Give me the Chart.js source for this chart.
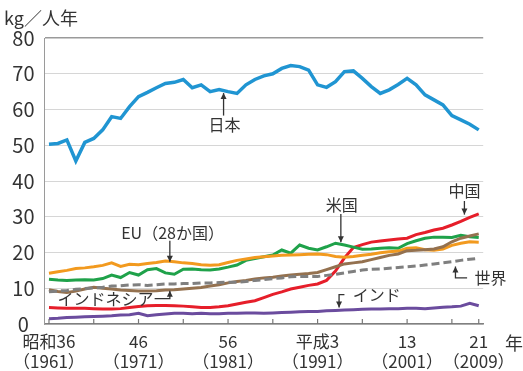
<!DOCTYPE html>
<html>
<head>
<meta charset="utf-8">
<script src="https://cdn.jsdelivr.net/npm/chart.js@4/dist/chart.umd.min.js"></script>
<style>
  html, body { margin: 0; padding: 0; background: #fff; }
  #wrap { width: 523px; height: 371px; position: relative; }
</style>
</head>
<body>
<div id="wrap"><canvas id="fishChart"></canvas></div>
<script>
// years 1961 - 2009
const years = [
  1961, 1962, 1963, 1964, 1965, 1966, 1967, 1968, 1969, 1970,
  1971, 1972, 1973, 1974, 1975, 1976, 1977, 1978, 1979, 1980,
  1981, 1982, 1983, 1984, 1985, 1986, 1987, 1988, 1989, 1990,
  1991, 1992, 1993, 1994, 1995, 1996, 1997, 1998, 1999, 2000,
  2001, 2002, 2003, 2004, 2005, 2006, 2007, 2008, 2009
];

const japan = [
  50.3, 50.5, 51.5, 45.6, 50.8, 51.9, 54.3, 58.0, 57.5, 60.8,
  63.6, 64.8, 66.1, 67.3, 67.6, 68.4, 66.1, 66.9, 65.0, 65.6,
  65.0, 64.5, 66.9, 68.4, 69.4, 70.0, 71.5, 72.3, 72.0, 71.0,
  66.9, 66.2, 67.8, 70.6, 70.8, 68.7, 66.4, 64.5, 65.5, 67.0,
  68.7, 66.9, 64.1, 62.7, 61.3, 58.3, 57.1, 55.9, 54.3
];
const usa = [
  12.5, 12.3, 12.2, 12.3, 12.4, 12.3, 12.7, 13.7, 13.0, 14.4,
  13.7, 15.2, 15.5, 14.3, 13.9, 15.3, 15.4, 15.2, 15.1, 15.4,
  15.9, 16.5, 17.8, 18.3, 18.8, 19.3, 20.7, 19.8, 22.1, 21.2,
  20.7, 21.6, 22.6, 22.1, 21.5, 20.9, 21.0, 21.2, 21.3, 21.2,
  22.5, 23.3, 24.0, 24.3, 24.3, 24.2, 24.8, 24.4, 24.2
];
const eu = [
  14.2, 14.6, 15.0, 15.5, 15.7, 16.0, 16.4, 17.1, 16.1, 16.7,
  16.6, 16.9, 17.2, 17.6, 17.4, 17.1, 16.9, 16.6, 16.4, 16.6,
  17.2, 17.8, 18.2, 18.6, 18.8, 19.0, 19.2, 19.3, 19.4, 19.5,
  19.6, 19.4, 18.9, 18.7, 18.9, 19.2, 19.5, 19.9, 20.2, 20.4,
  21.2, 21.3, 20.8, 20.6, 21.0, 22.0, 22.6, 23.0, 22.9
];
const china = [
  4.6, 4.5, 4.4, 4.4, 4.4, 4.3, 4.2, 4.2, 4.3, 4.6,
  4.9, 5.1, 5.2, 5.2, 5.1, 5.0, 4.8, 4.6, 4.6, 4.8,
  5.1, 5.6, 6.1, 6.5, 7.4, 8.3, 9.0, 9.8, 10.3, 10.8,
  11.2, 12.2, 14.8, 18.5, 21.4, 22.2, 22.9, 23.2, 23.5, 23.8,
  24.0, 25.0, 25.6, 26.3, 26.8, 27.7, 28.7, 29.8, 30.8
];
const indonesia = [
  9.6, 9.1, 8.8, 9.2, 9.8, 10.3, 10.0, 9.8, 9.5, 9.4,
  9.2, 9.2, 9.3, 9.5, 9.6, 9.8, 10.0, 10.2, 10.6, 11.0,
  11.5, 11.9, 12.2, 12.6, 12.9, 13.1, 13.4, 13.7, 13.9, 14.1,
  14.4, 15.2, 16.0, 16.8, 17.1, 17.4, 18.0, 18.6, 19.2, 19.6,
  20.5, 20.6, 20.8, 21.0, 21.6, 23.0, 24.0, 24.6, 25.2
];
const world = [
  9.0, 9.2, 9.4, 9.7, 9.9, 10.1, 10.3, 10.6, 10.7, 10.9,
  11.0, 10.8, 11.0, 11.2, 11.2, 11.3, 11.3, 11.5, 11.5, 11.6,
  11.7, 11.7, 11.9, 12.2, 12.4, 12.7, 12.9, 13.2, 13.3, 13.3,
  13.3, 13.6, 13.9, 14.3, 14.7, 15.1, 15.3, 15.4, 15.6, 15.8,
  16.0, 16.2, 16.5, 16.8, 17.1, 17.4, 17.8, 18.1, 18.4
];
const india = [
  1.5, 1.6, 1.8, 1.9, 2.0, 2.1, 2.2, 2.3, 2.5, 2.6,
  3.0, 2.3, 2.6, 2.8, 3.0, 3.0, 2.9, 3.0, 2.9, 2.9,
  3.0, 3.0, 3.1, 3.1, 3.0, 3.1, 3.2, 3.3, 3.4, 3.5,
  3.5, 3.7, 3.8, 3.9, 4.0, 4.1, 4.2, 4.2, 4.3, 4.3,
  4.4, 4.4, 4.3, 4.5, 4.7, 4.8, 5.0, 5.8, 5.1
];

// x axis ticks (every 5 years + last year) and their labels
const tickYears = [1961, 1966, 1971, 1976, 1981, 1986, 1991, 1996, 2001, 2006, 2009];
const tickLabels = {
  1961: ['昭和36', '（1961）'],
  1971: ['46', '（1971）'],
  1981: ['56', '（1981）'],
  1991: ['平成3', '（1991）'],
  2001: ['13', '（2001）'],
  2009: ['21', '（2009）']
};
const yTicks = [0, 10, 20, 30, 40, 50, 60, 70, 80];

const FONT = "'Noto Sans CJK JP', 'Noto Sans', sans-serif";
const TEXT = '#333333';

const toXY = arr => arr.map((v, i) => ({ x: years[i], y: v }));

function series(label, values, color, extra) {
  return Object.assign({
    label: label,
    data: toXY(values),
    borderColor: color,
    backgroundColor: color,
    borderWidth: 3,
    pointRadius: 0,
    tension: 0,
    fill: false
  }, extra || {});
}

// notes: text + arrow, in data coordinates
const notes = [
  { text: '日本', tx: 1980.6, ty: 55.6, arrow: [[1980.5, 58.3], [1980.5, 64.6]] },
  { text: 'EU（28か国）', tx: 1974.8, ty: 25.6, arrow: [[1974.5, 23.3], [1974.5, 17.4]] },
  { text: '米国', tx: 1993.7, ty: 33.4, arrow: [[1993.6, 30.8], [1993.6, 22.9]] },
  { text: '中国', tx: 2007.4, ty: 37.2, arrow: [[2007.4, 34.4], [2007.4, 30.6]] },
  { text: '世界', tx: 2010.3, ty: 13.0, arrow: [[2007.7, 12.9], [2006.4, 12.9], [2006.4, 16.1]] },
  { text: 'インド', tx: 1997.6, ty: 8.1, arrow: [[1994.0, 8.2], [1993.4, 8.2], [1993.4, 4.6]] },
  { text: 'インドネシア', tx: 1967.3, ty: 7.1, arrow: [[1972.8, 7.1], [1974.5, 7.1], [1974.5, 9.3]] }
];

const notesPlugin = {
  id: 'notes',
  afterDatasetsDraw(chart) {
    const ctx = chart.ctx;
    const xs = chart.scales.x, ys = chart.scales.y;
    ctx.save();
    ctx.fillStyle = TEXT;
    ctx.strokeStyle = TEXT;
    ctx.lineWidth = 1.3;
    ctx.textAlign = 'center';
    ctx.textBaseline = 'middle';
    notes.forEach(n => {
      ctx.font = '16px ' + FONT;
      ctx.fillText(n.text, xs.getPixelForValue(n.tx), ys.getPixelForValue(n.ty));
      const pts = n.arrow.map(p => [xs.getPixelForValue(p[0]), ys.getPixelForValue(p[1])]);
      ctx.beginPath();
      ctx.moveTo(pts[0][0], pts[0][1]);
      for (let i = 1; i < pts.length; i++) ctx.lineTo(pts[i][0], pts[i][1]);
      ctx.stroke();
      // arrow head
      const a = pts[pts.length - 2], b = pts[pts.length - 1];
      const ang = Math.atan2(b[1] - a[1], b[0] - a[0]);
      ctx.beginPath();
      ctx.moveTo(b[0], b[1]);
      ctx.lineTo(b[0] - 6 * Math.cos(ang) + 3 * Math.sin(ang), b[1] - 6 * Math.sin(ang) - 3 * Math.cos(ang));
      ctx.lineTo(b[0] - 6 * Math.cos(ang) - 3 * Math.sin(ang), b[1] - 6 * Math.sin(ang) + 3 * Math.cos(ang));
      ctx.closePath();
      ctx.fill();
    });

    // inward tick marks on the x axis
    const bottom = chart.chartArea.bottom;
    ctx.strokeStyle = '#777';
    ctx.lineWidth = 1.2;
    tickYears.forEach(yr => {
      const px = xs.getPixelForValue(yr);
      ctx.beginPath();
      ctx.moveTo(px, bottom);
      ctx.lineTo(px, bottom - 5);
      ctx.stroke();
    });

    // axis unit and year mark
    ctx.fillStyle = TEXT;
    ctx.font = '18px ' + FONT;
    ctx.textAlign = 'left';
    ctx.fillText('kg／人年', 4, 18);
    ctx.fillText('年', 505, bottom + 19);
    ctx.restore();
  }
};

const ctx = document.getElementById('fishChart').getContext('2d');
new Chart(ctx, {
  type: 'line',
  data: {
    datasets: [
      series('インド', india, '#6b4c9e'),
      series('世界', world, '#7f7f7f', { borderDash: [8, 4] }),
      series('インドネシア', indonesia, '#94714f'),
      series('EU（28か国）', eu, '#f29a1f'),
      series('米国', usa, '#1fa24a'),
      series('中国', china, '#e61e2a'),
      series('日本', japan, '#2095d2', { borderWidth: 3.5 })
    ]
  },
  options: {
    responsive: true,
    maintainAspectRatio: false,
    animation: false,
    layout: { padding: { top: 38, right: 38.5, left: 0, bottom: 0 } },
    plugins: {
      legend: { display: false },
      tooltip: { enabled: false }
    },
    scales: {
      x: {
        type: 'linear',
        min: 1960.5,
        max: 2009.5,
        afterBuildTicks: scale => { scale.ticks = tickYears.map(v => ({ value: v })); },
        afterFit: scale => { scale.height = 47; },
        grid: { display: true, drawOnChartArea: false, drawTicks: false },
        border: { display: true, color: '#808080', width: 1.5 },
        ticks: {
          autoSkip: false,
          maxRotation: 0,
          padding: 8,
          color: TEXT,
          font: { family: FONT, size: 17, lineHeight: 1.15 },
          callback: v => tickLabels[v] || ''
        }
      },
      y: {
        min: 0,
        max: 80,
        afterBuildTicks: scale => { scale.ticks = yTicks.map(v => ({ value: v })); },
        afterFit: scale => { scale.width = 44.5; },
        grid: {
          drawTicks: false,
          color: c => (c.tick && c.tick.value === 80) ? '#9a9a9a' : '#d6d6d6',
          lineWidth: c => (c.tick && c.tick.value === 80) ? 1.5 : 1
        },
        border: { display: true, color: '#9a9a9a', width: 1 },
        ticks: {
          padding: 10,
          crossAlign: 'center',
          color: TEXT,
          font: { family: FONT, size: 20 }
        }
      }
    }
  },
  plugins: [notesPlugin]
});
</script>
</body>
</html>
